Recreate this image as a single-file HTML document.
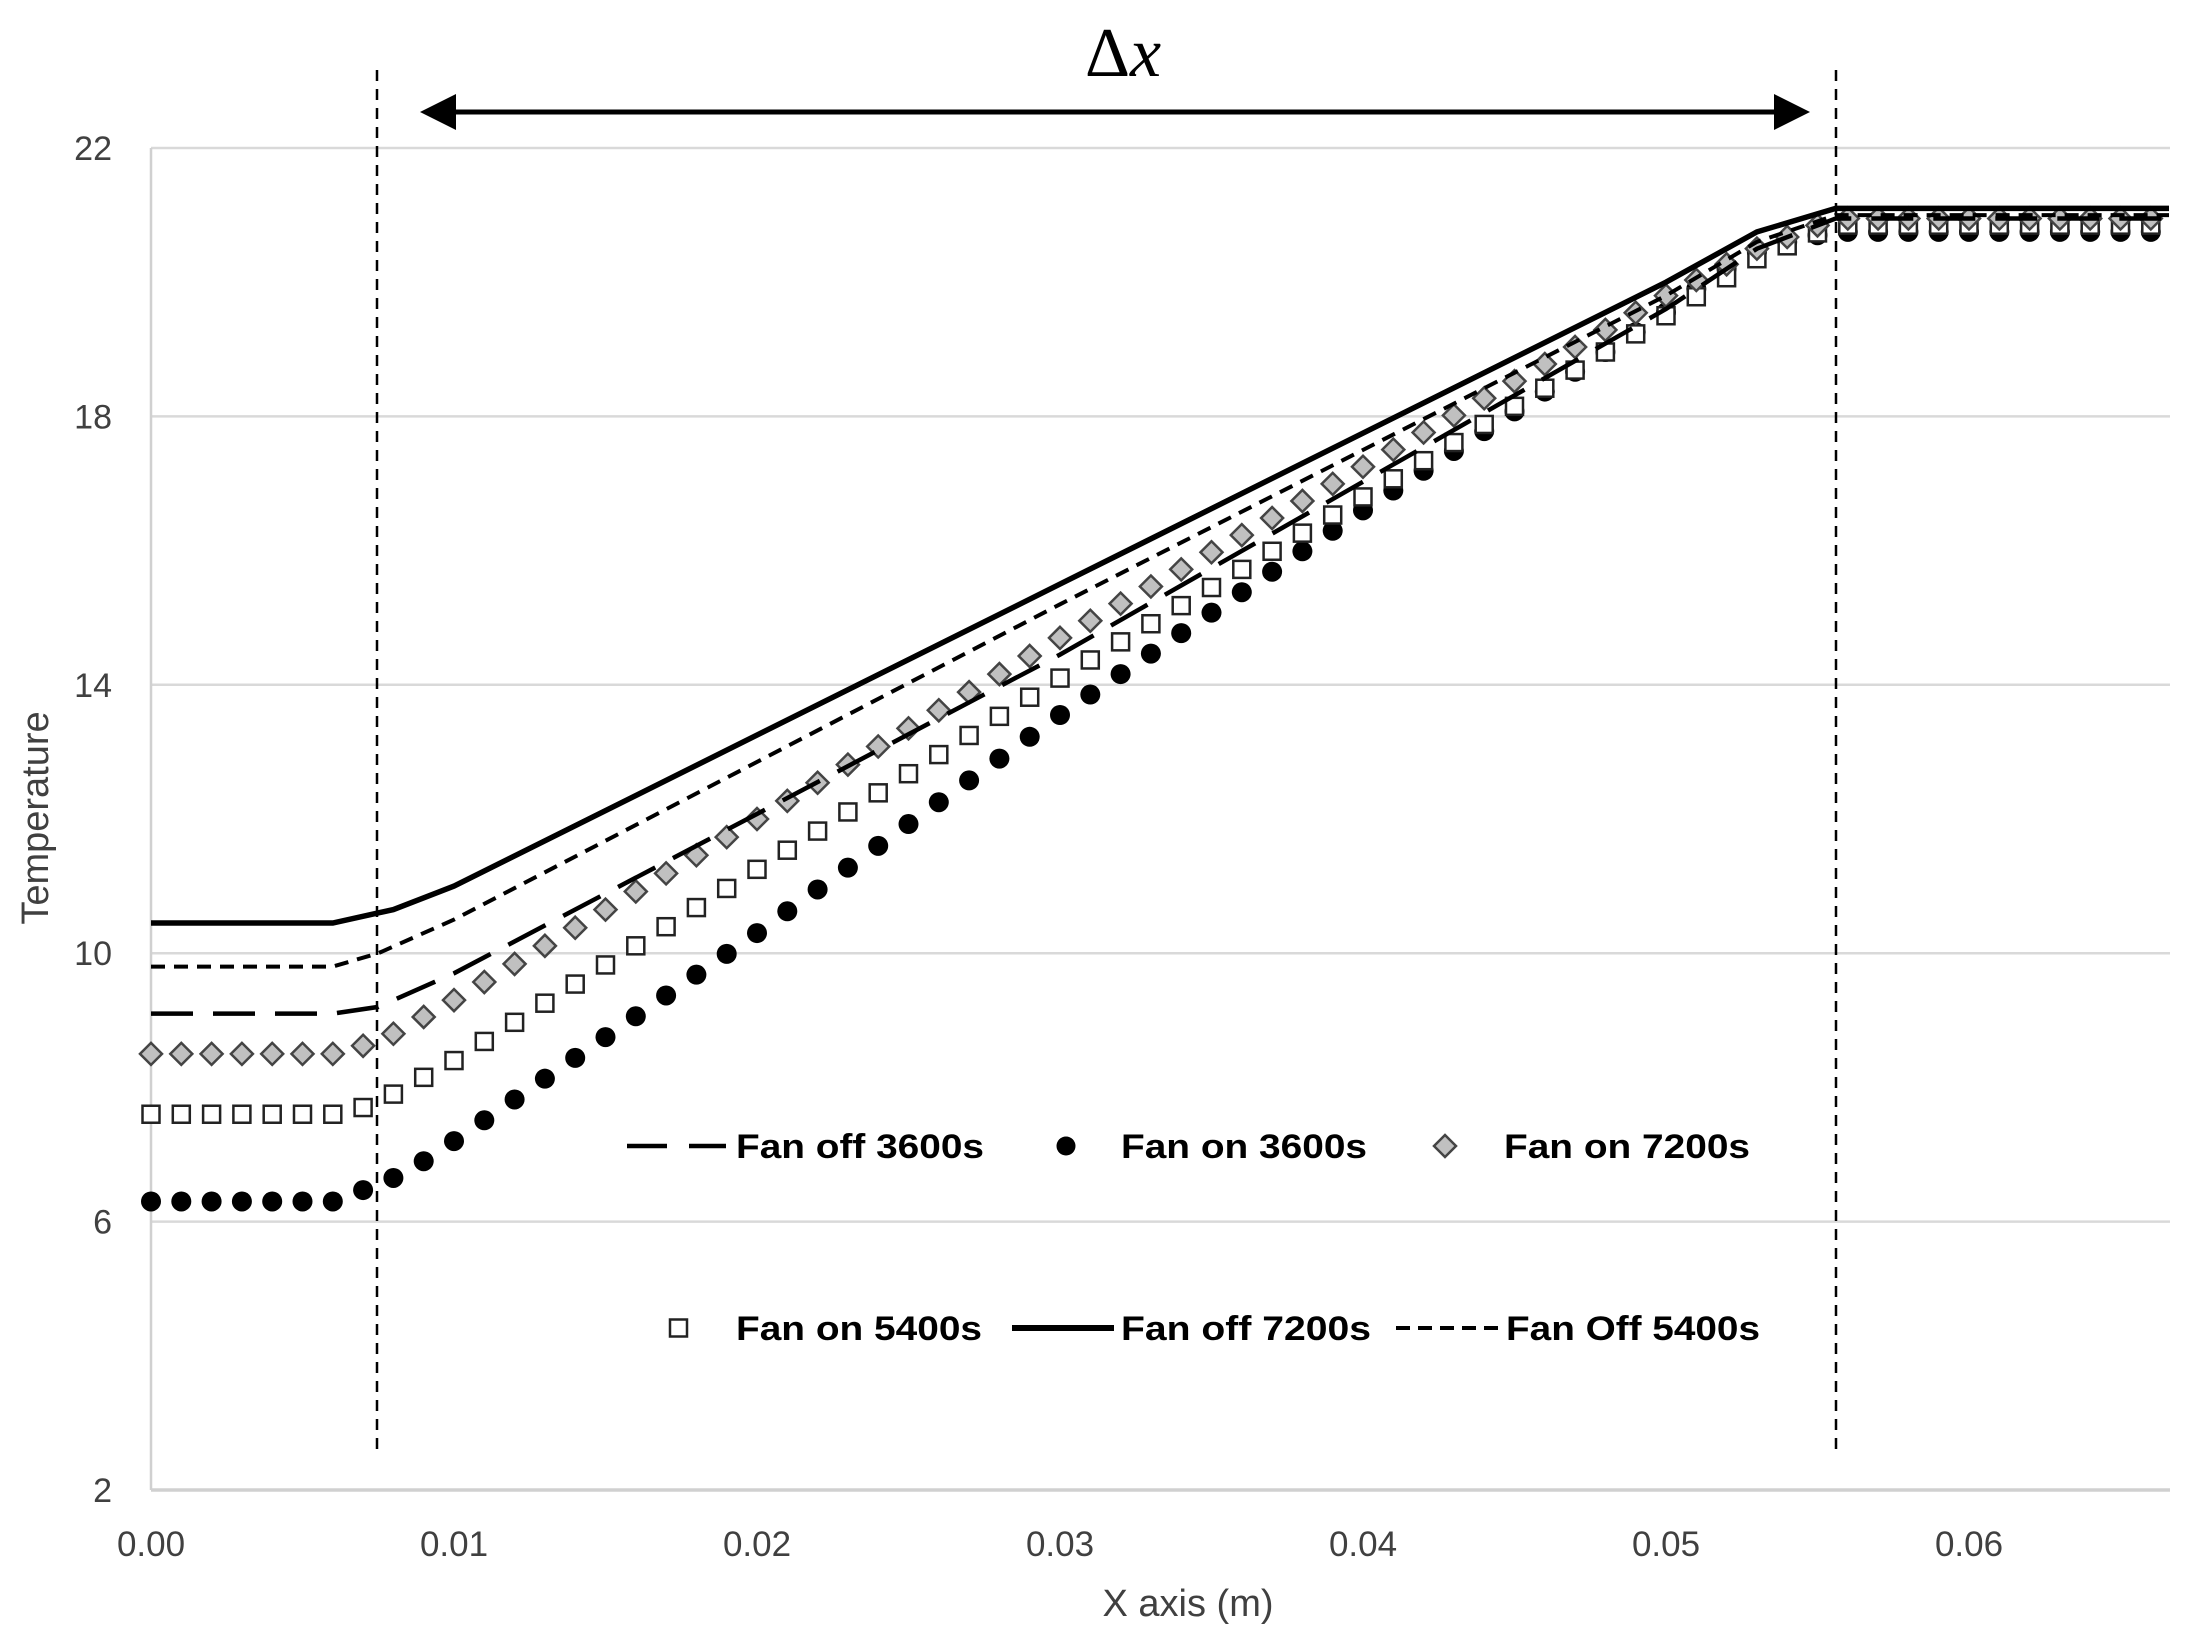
<!DOCTYPE html>
<html><head><meta charset="utf-8"><style>
html,body{margin:0;padding:0;background:#fff;}
svg{display:block;}
</style></head><body>
<svg id="s" xmlns="http://www.w3.org/2000/svg" width="2199" height="1636" viewBox="0 0 2199 1636">
<rect width="2199" height="1636" fill="#fff"/>
<g id="grid"></g>
<g id="series"></g>
<g id="ann"></g>
</svg>
<script>
const NS="http://www.w3.org/2000/svg";
const svg=document.getElementById('s');
function el(t,a,p){const e=document.createElementNS(NS,t);for(const k in a)e.setAttribute(k,a[k]);(p||svg).appendChild(e);return e;}
const L=151,R=2170,B=1490,T22=148;
const X=x=>L+x*30300;
const Y=t=>B-(t-2)*(B-T22)/20;
const grid=document.getElementById('grid');
[6,10,14,18,22].forEach(t=>el('line',{x1:L,x2:R,y1:Y(t),y2:Y(t),stroke:'#d9d9d9','stroke-width':2.5},grid));
el('line',{x1:L,x2:L,y1:T22,y2:B,stroke:'#d0d0d0','stroke-width':2.5},grid);
el('line',{x1:L,x2:R,y1:B,y2:B,stroke:'#d0d0d0','stroke-width':3.5},grid);
const font='"Liberation Sans", sans-serif';
[2,6,10,14,18,22].forEach(t=>{const e=el('text',{x:112,y:Y(t)+12,'text-anchor':'end','font-family':font,'font-size':34,fill:'#404040'},grid);e.textContent=t;});
['0.00','0.01','0.02','0.03','0.04','0.05','0.06'].forEach((s,i)=>{const e=el('text',{x:X(i*0.01),y:1556,'text-anchor':'middle','font-family':font,'font-size':35,fill:'#404040'},grid);e.textContent=s;});
let e=el('text',{x:1188,y:1616,'text-anchor':'middle','font-family':font,'font-size':38,fill:'#404040'},grid);e.textContent='X axis (m)';
e=el('text',{x:0,y:0,'text-anchor':'middle','font-family':font,'font-size':38,fill:'#404040',transform:'translate(48,818) rotate(-90)'},grid);e.textContent='Temperature';

const E=0.0666;
const S={
 solid:[[0,10.45],[0.006,10.45],[0.008,10.65],[0.010,11.0],[0.030,15.5],[0.050,20.0],[0.053,20.75],[0.0556,21.1],[E,21.1]],
 sdash:[[0,9.8],[0.006,9.8],[0.0075,10.0],[0.010,10.5],[0.030,15.2],[0.050,19.8],[0.053,20.6],[0.0556,21.0],[E,21.0]],
 ldash:[[0,9.1],[0.006,9.1],[0.0075,9.2],[0.010,9.7],[0.030,14.45],[0.050,19.6],[0.053,20.5],[0.0556,20.95],[E,20.95]],
 dia:[[0,8.5],[0.006,8.5],[0.007,8.62],[0.008,8.8],[0.010,9.3],[0.030,14.7],[0.050,19.8],[0.053,20.5],[0.0556,20.95],[E,20.95]],
 sq:[[0,7.6],[0.006,7.6],[0.007,7.7],[0.008,7.9],[0.010,8.4],[0.030,14.1],[0.050,19.5],[0.053,20.35],[0.0556,20.85],[E,20.85]],
 cir:[[0,6.3],[0.006,6.3],[0.007,6.47],[0.008,6.65],[0.009,6.9],[0.010,7.2],[0.020,10.3],[0.030,13.55],[0.040,16.6],[0.050,19.55],[0.051,19.9],[0.052,20.2],[0.053,20.45],[0.054,20.6],[0.055,20.7],[0.056,20.75],[E,20.75]]
};
function f(k,x){const p=S[k];for(let i=1;i<p.length;i++){if(x<=p[i][0]+1e-9){const a=p[i-1],b=p[i];return a[1]+(b[1]-a[1])*(x-a[0])/(b[0]-a[0]);}}return p[p.length-1][1];}
const g=document.getElementById('series');
function pts(k){return S[k].map(p=>X(p[0]).toFixed(1)+','+Y(p[1]).toFixed(1)).join(' ');}
for(let i=0;i<=66;i++){const x=i*0.001,cx=X(x);
 el('circle',{cx:cx,cy:Y(f('cir',x)),r:10,fill:'#000'},g);}
for(let i=0;i<=66;i++){const x=i*0.001,cx=X(x),cy=Y(f('sq',x));
 el('rect',{x:cx-8.5,y:cy-8.5,width:17,height:17,fill:'#fff',stroke:'#222','stroke-width':2.5},g);}
for(let i=0;i<=66;i++){const x=i*0.001,cx=X(x),cy=Y(f('dia',x));
 el('polygon',{points:`${cx},${cy-11} ${cx+11},${cy} ${cx},${cy+11} ${cx-11},${cy}`,fill:'#c0c0c0',stroke:'#444','stroke-width':2.5},g);}
el('polyline',{points:pts('ldash'),fill:'none',stroke:'#000','stroke-width':4.5,'stroke-dasharray':'42 20'},g);
el('polyline',{points:pts('sdash'),fill:'none',stroke:'#000','stroke-width':4,'stroke-dasharray':'14 9'},g);
el('polyline',{points:pts('solid'),fill:'none',stroke:'#000','stroke-width':5.5},g);

const a=document.getElementById('ann');
[377,1836].forEach(x=>el('line',{x1:x,x2:x,y1:70,y2:1455,stroke:'#000','stroke-width':2.5,'stroke-dasharray':'11 8'},a));
el('line',{x1:440,x2:1790,y1:112,y2:112,stroke:'#000','stroke-width':5},a);
el('polygon',{points:'420,112 456,94 456,130',fill:'#000'},a);
el('polygon',{points:'1810,112 1774,94 1774,130',fill:'#000'},a);
e=el('text',{x:1123,y:76,'text-anchor':'middle','font-family':'"Liberation Serif", serif','font-size':70},a);
e.innerHTML='Δ<tspan font-style="italic">x</tspan>';
const lf='"Liberation Sans", sans-serif';
function lt(x,y,s,w){const t=el('text',{x:x,y:y,'font-family':lf,'font-size':34,'font-weight':'bold',fill:'#000',textLength:w,lengthAdjust:'spacingAndGlyphs'},a);t.textContent=s;}
const r1=1146,r2=1328;
el('line',{x1:627,x2:726,y1:r1,y2:r1,stroke:'#000','stroke-width':4.5,'stroke-dasharray':'40 22'},a);
lt(736,r1+12,'Fan off 3600s',248);
el('circle',{cx:1066,cy:r1,r:9.5,fill:'#000'},a);
lt(1121,r1+12,'Fan on 3600s',246);
el('polygon',{points:`1445,${r1-11} 1456,${r1} 1445,${r1+11} 1434,${r1}`,fill:'#c0c0c0',stroke:'#444','stroke-width':2.5},a);
lt(1504,r1+12,'Fan on 7200s',246);
el('rect',{x:670,y:r2-8.5,width:17,height:17,fill:'#fff',stroke:'#222','stroke-width':2.5},a);
lt(736,r2+12,'Fan on 5400s',246);
el('line',{x1:1012,x2:1114,y1:r2,y2:r2,stroke:'#000','stroke-width':6},a);
lt(1121,r2+12,'Fan off 7200s',250);
el('line',{x1:1396,x2:1500,y1:r2,y2:r2,stroke:'#000','stroke-width':4,'stroke-dasharray':'14 8'},a);
lt(1506,r2+12,'Fan Off 5400s',254);
</script>
</body></html>
